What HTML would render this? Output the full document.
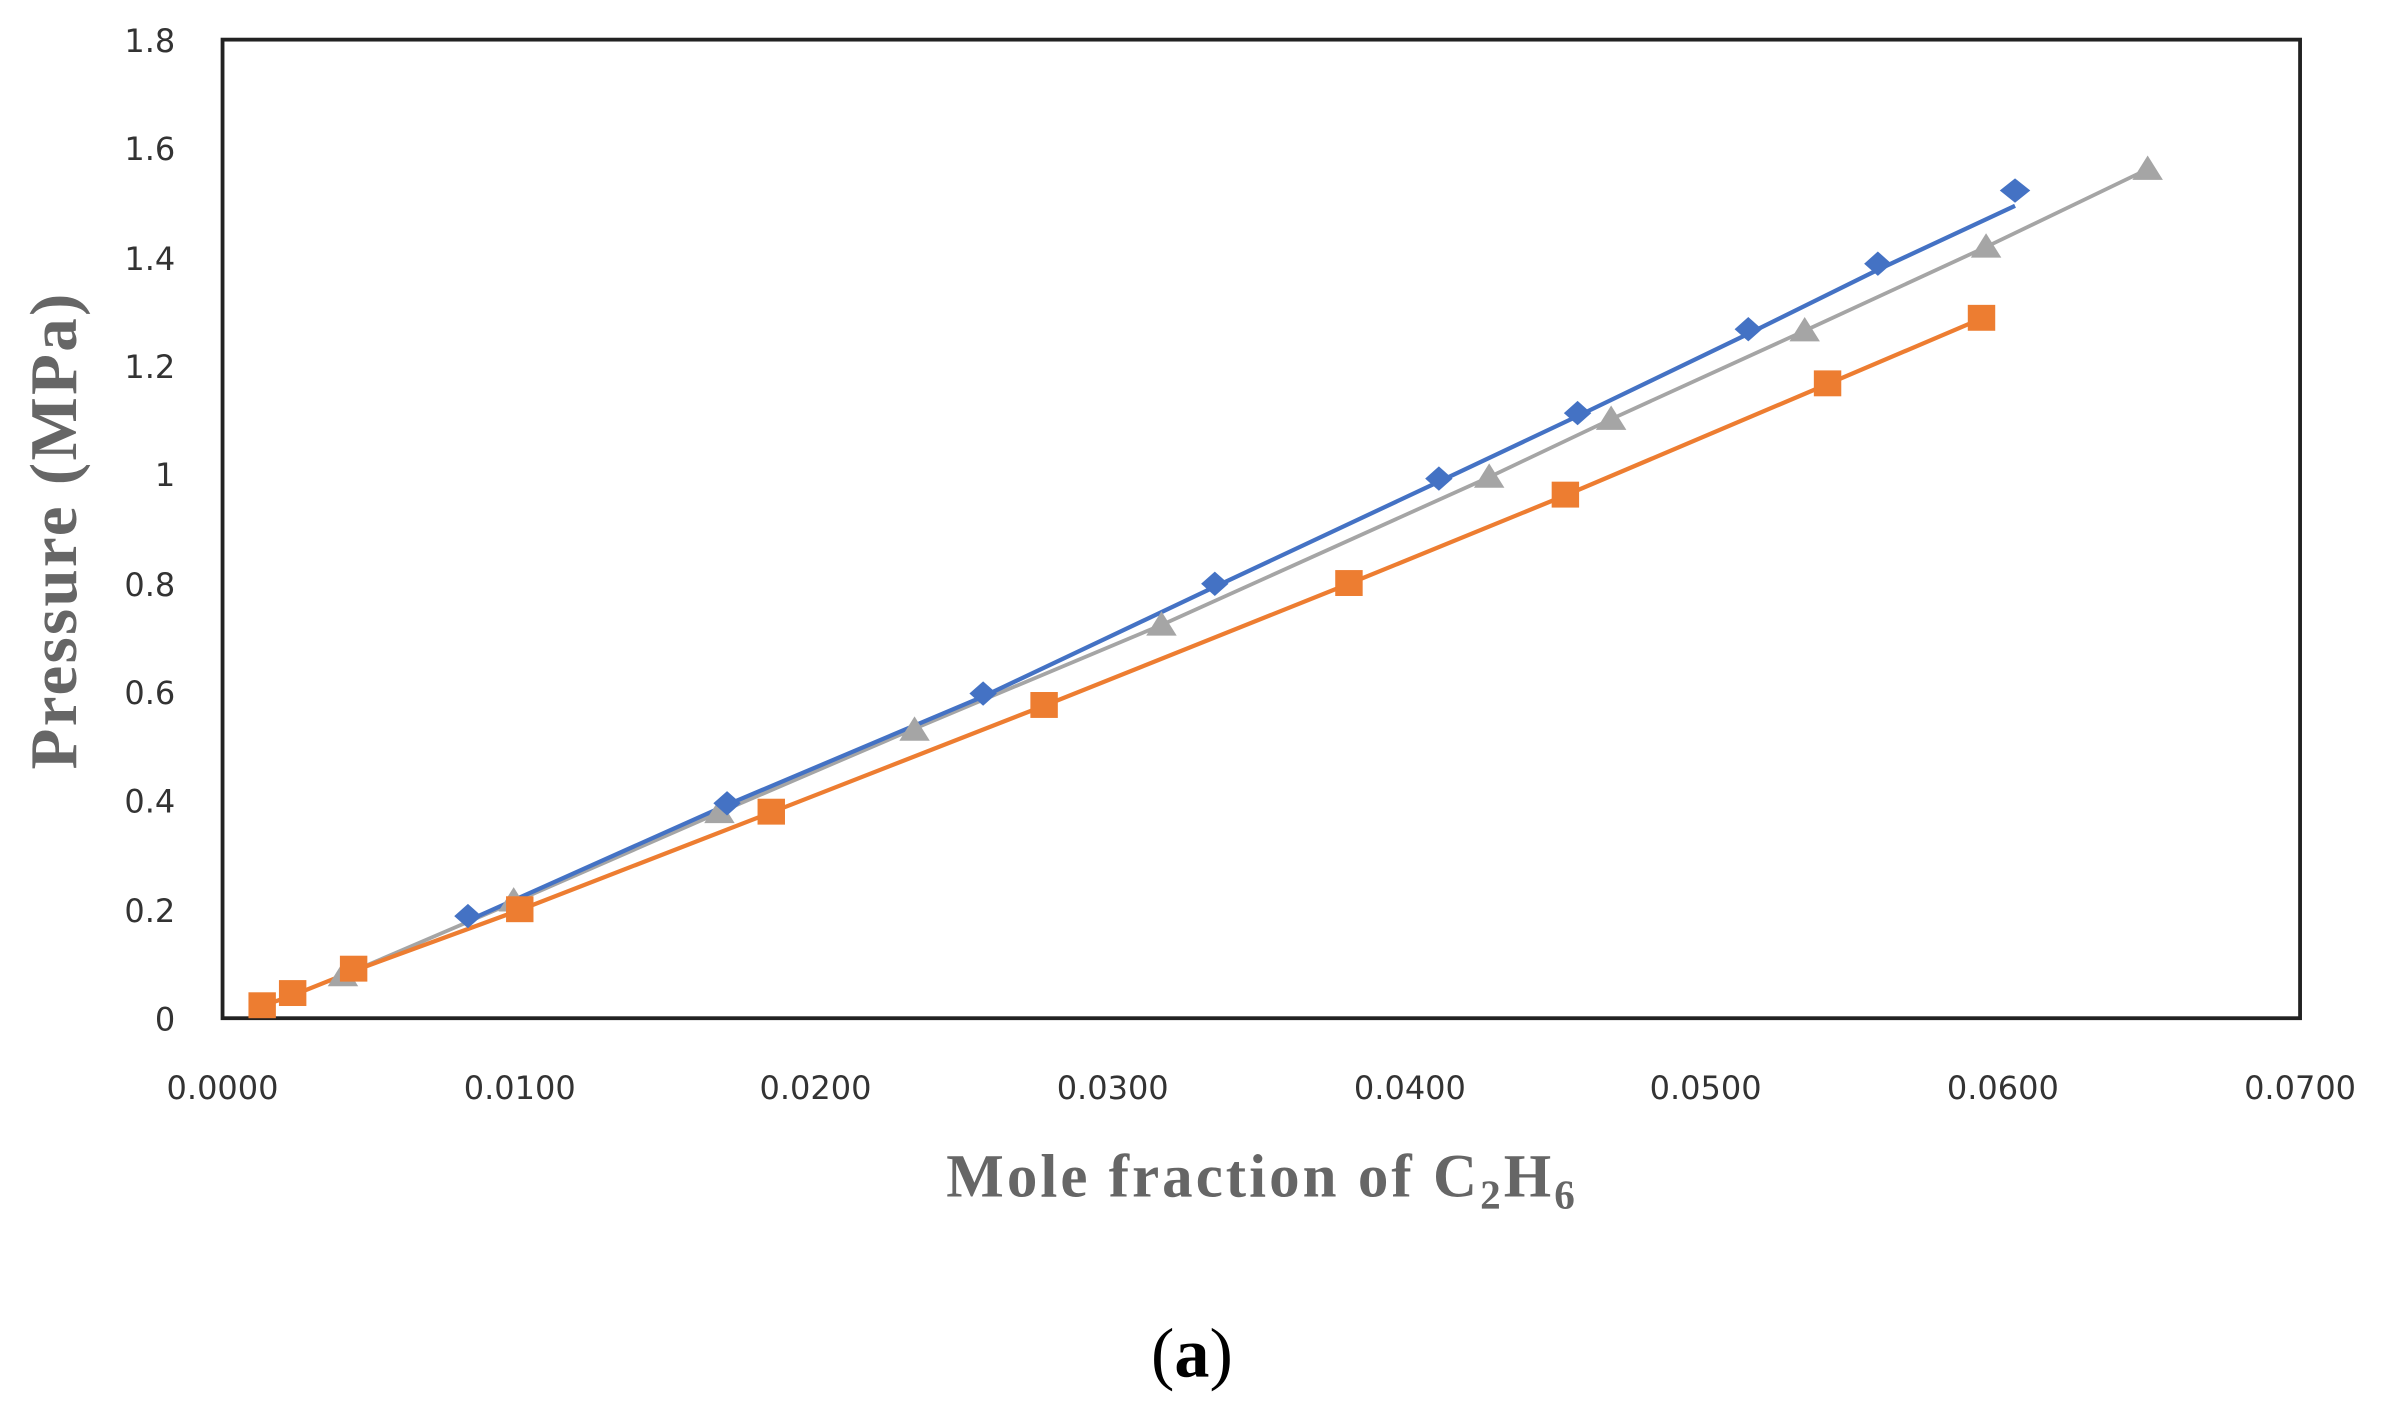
<!DOCTYPE html>
<html><head><meta charset="utf-8"><style>
html,body{margin:0;padding:0;background:#fff;}
svg{display:block;}
</style></head><body>
<svg width="2390" height="1420" viewBox="0 0 1568 931.6" preserveAspectRatio="none" xmlns="http://www.w3.org/2000/svg">
<rect x="0" y="0" width="1568" height="931.6" fill="#fff"/>
<rect x="146" y="26" width="1363" height="642" fill="none" stroke="#222" stroke-width="2.5"/>
<g font-family="DejaVu Sans, sans-serif" font-size="21" fill="#333" text-anchor="end">
<text x="115" y="676">0</text>
<text x="115" y="605">0.2</text>
<text x="115" y="533">0.4</text>
<text x="115" y="462">0.6</text>
<text x="115" y="391">0.8</text>
<text x="115" y="319">1</text>
<text x="115" y="248">1.2</text>
<text x="115" y="177">1.4</text>
<text x="115" y="105">1.6</text>
<text x="115" y="34">1.8</text>
</g>
<g font-family="DejaVu Sans, sans-serif" font-size="21" fill="#333" text-anchor="middle">
<text x="146" y="721">0.0000</text>
<text x="341" y="721">0.0100</text>
<text x="535" y="721">0.0200</text>
<text x="730" y="721">0.0300</text>
<text x="925" y="721">0.0400</text>
<text x="1119" y="721">0.0500</text>
<text x="1314" y="721">0.0600</text>
<text x="1509" y="721">0.0700</text>
</g>
<text x="828" y="785" font-family="Liberation Serif, serif" font-weight="bold" font-size="40" letter-spacing="2" fill="#666" text-anchor="middle">Mole fraction of C<tspan font-size="27" dy="8">2</tspan><tspan dy="-8">H</tspan><tspan font-size="27" dy="8">6</tspan></text>
<text transform="translate(50,348) rotate(-90)" font-family="Liberation Serif, serif" font-weight="bold" font-size="44" letter-spacing="1.5" fill="#666" text-anchor="middle">Pressure (MPa)</text>
<text x="782" y="903" font-family="Liberation Serif, serif" font-size="46" fill="#000" text-anchor="middle">(<tspan font-weight="bold">a</tspan>)</text>

<polyline fill="none" stroke="#a5a5a5" stroke-width="2.5" points="225,640 337,592 472,533 600,478 762,410 977,313 1057,275 1184,217 1303,162 1409,111"/>
<polyline fill="none" stroke="#4472c4" stroke-width="2.8" points="307,604 477,528 645,457 797,385 944,316 1035,273 1147,219 1232,177 1322,135"/>
<polyline fill="none" stroke="#ed7d31" stroke-width="2.8" points="172,660 192,653 232,637 341,597 506,533 685,463 885,383 1027,325 1199,252 1300,209"/>

<g fill="#a5a5a5">
<path d="M225,631 l10,16 h-20z"/><path d="M337,582 l10,16 h-20z"/><path d="M472,524 l10,16 h-20z"/><path d="M600,470 l10,16 h-20z"/><path d="M762,401 l10,16 h-20z"/><path d="M977,304 l10,16 h-20z"/><path d="M1057,266 l10,16 h-20z"/><path d="M1184,208 l10,16 h-20z"/><path d="M1303,153 l10,16 h-20z"/><path d="M1409,102 l10,16 h-20z"/>
</g>
<g fill="#4472c4">
<path d="M307,593 l9,8 l-9,8 l-9,-8z"/><path d="M477,519 l9,8 l-9,8 l-9,-8z"/><path d="M645,447 l9,8 l-9,8 l-9,-8z"/><path d="M797,375 l9,8 l-9,8 l-9,-8z"/><path d="M944,306 l9,8 l-9,8 l-9,-8z"/><path d="M1035,263 l9,8 l-9,8 l-9,-8z"/><path d="M1147,208 l9,8 l-9,8 l-9,-8z"/><path d="M1232,165 l9,8 l-9,8 l-9,-8z"/><path d="M1322,117 l10,8 l-10,8 l-10,-8z"/>
</g>
<g fill="#ed7d31">
<rect x="163" y="651" width="18" height="17"/><rect x="183" y="643" width="18" height="17"/><rect x="223" y="627" width="18" height="17"/><rect x="332" y="588" width="18" height="17"/><rect x="497" y="524" width="18" height="17"/><rect x="676" y="454" width="18" height="17"/><rect x="876" y="374" width="18" height="17"/><rect x="1018" y="316" width="18" height="17"/><rect x="1190" y="243" width="18" height="17"/><rect x="1291" y="200" width="18" height="17"/>
</g>
</svg>
</body></html>
